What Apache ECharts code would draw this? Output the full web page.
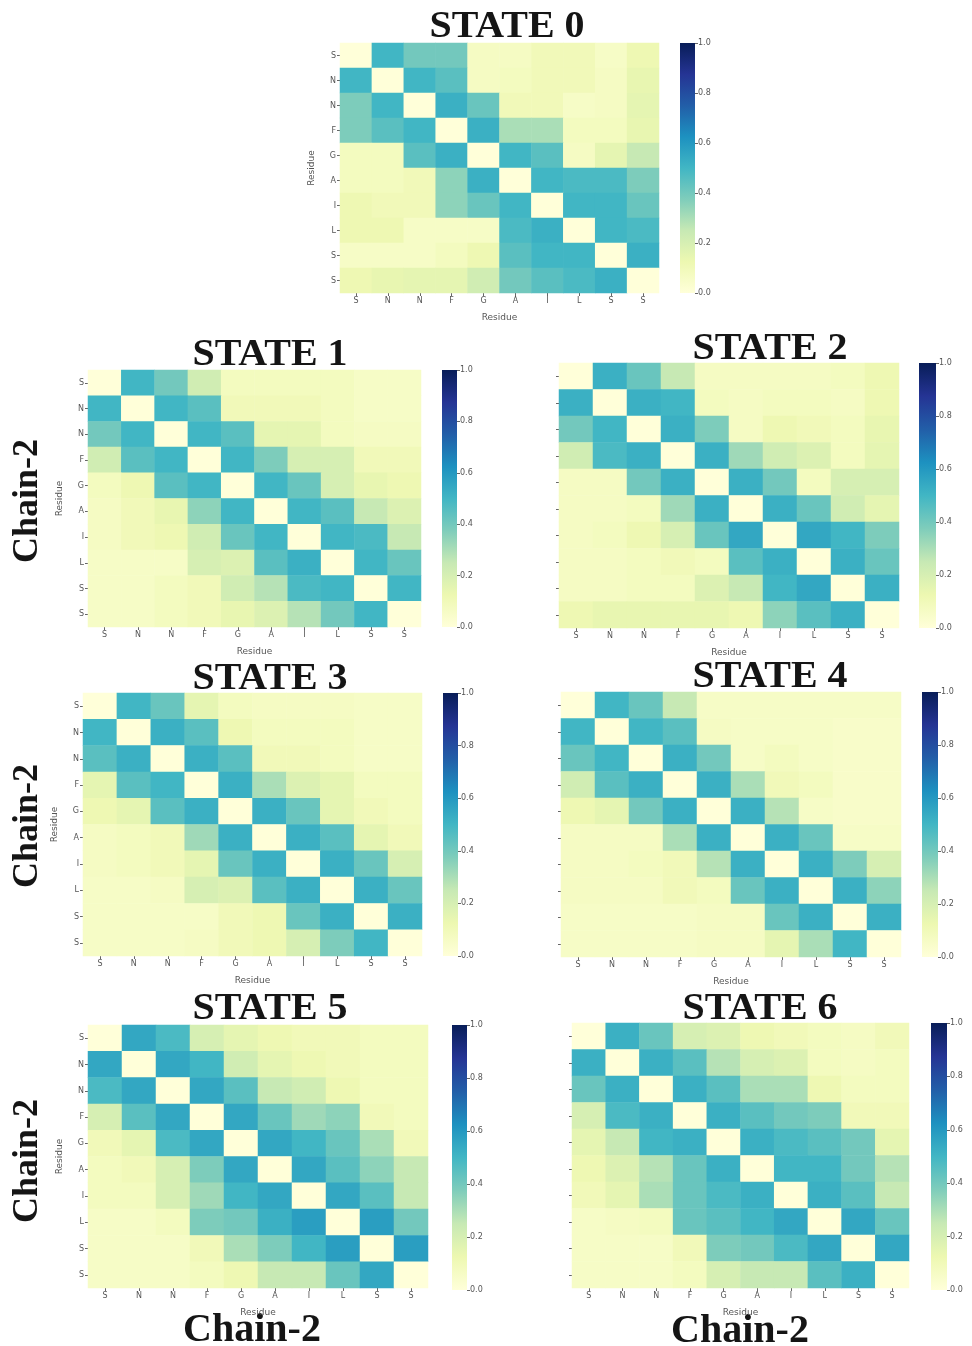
<!DOCTYPE html>
<html>
<head>
<meta charset="utf-8">
<script src="https://cdn.jsdelivr.net/npm/echarts@6/dist/echarts.min.js"></script>
<style>
  html, body { margin: 0; padding: 0; background: #ffffff; }
  #chart { width: 972px; height: 1346px; }
</style>
</head>
<body>
<div id="chart"></div>
<script>
// Residue sequence shared by both axes of every contact map
const RESIDUES = ['S', 'N', 'N', 'F', 'G', 'A', 'I', 'L', 'S', 'S'];

// Contact probability matrices (rows top→bottom, columns left→right)
const STATE_0 = [
  [0.00, 0.50, 0.40, 0.40, 0.07, 0.07, 0.10, 0.10, 0.06, 0.12],
  [0.50, 0.00, 0.50, 0.45, 0.07, 0.08, 0.10, 0.10, 0.07, 0.14],
  [0.38, 0.50, 0.00, 0.52, 0.42, 0.10, 0.10, 0.06, 0.07, 0.15],
  [0.38, 0.45, 0.50, 0.00, 0.52, 0.30, 0.30, 0.08, 0.08, 0.14],
  [0.08, 0.08, 0.45, 0.52, 0.00, 0.50, 0.45, 0.07, 0.15, 0.25],
  [0.08, 0.08, 0.10, 0.35, 0.52, 0.00, 0.50, 0.48, 0.48, 0.38],
  [0.12, 0.10, 0.10, 0.35, 0.42, 0.50, 0.00, 0.50, 0.50, 0.42],
  [0.12, 0.12, 0.06, 0.06, 0.06, 0.48, 0.52, 0.00, 0.50, 0.48],
  [0.06, 0.06, 0.06, 0.08, 0.12, 0.45, 0.50, 0.50, 0.00, 0.52],
  [0.12, 0.14, 0.15, 0.15, 0.22, 0.40, 0.45, 0.48, 0.52, 0.00]
];
const STATE_1 = [
  [0.00, 0.50, 0.40, 0.22, 0.08, 0.08, 0.08, 0.08, 0.06, 0.06],
  [0.50, 0.00, 0.50, 0.45, 0.10, 0.10, 0.10, 0.08, 0.06, 0.06],
  [0.40, 0.50, 0.00, 0.50, 0.45, 0.15, 0.15, 0.08, 0.07, 0.07],
  [0.22, 0.45, 0.50, 0.00, 0.50, 0.38, 0.20, 0.20, 0.10, 0.10],
  [0.08, 0.12, 0.45, 0.50, 0.00, 0.50, 0.42, 0.20, 0.14, 0.12],
  [0.07, 0.10, 0.14, 0.35, 0.50, 0.00, 0.50, 0.45, 0.25, 0.18],
  [0.07, 0.10, 0.12, 0.22, 0.42, 0.50, 0.00, 0.50, 0.48, 0.25],
  [0.06, 0.06, 0.06, 0.20, 0.18, 0.45, 0.52, 0.00, 0.50, 0.42],
  [0.06, 0.06, 0.08, 0.10, 0.22, 0.28, 0.48, 0.50, 0.00, 0.50],
  [0.06, 0.06, 0.08, 0.10, 0.14, 0.18, 0.28, 0.40, 0.50, 0.00]
];
const STATE_2 = [
  [0.00, 0.52, 0.42, 0.25, 0.07, 0.07, 0.07, 0.07, 0.08, 0.12],
  [0.52, 0.00, 0.52, 0.50, 0.08, 0.07, 0.08, 0.08, 0.07, 0.12],
  [0.40, 0.50, 0.00, 0.52, 0.38, 0.07, 0.12, 0.10, 0.08, 0.14],
  [0.22, 0.48, 0.52, 0.00, 0.52, 0.32, 0.22, 0.18, 0.08, 0.15],
  [0.07, 0.07, 0.40, 0.52, 0.00, 0.52, 0.40, 0.08, 0.20, 0.20],
  [0.07, 0.07, 0.08, 0.32, 0.52, 0.00, 0.52, 0.42, 0.22, 0.15],
  [0.07, 0.08, 0.12, 0.20, 0.42, 0.55, 0.00, 0.55, 0.50, 0.38],
  [0.07, 0.07, 0.08, 0.10, 0.08, 0.45, 0.52, 0.00, 0.52, 0.42],
  [0.07, 0.07, 0.08, 0.08, 0.18, 0.25, 0.50, 0.55, 0.00, 0.52],
  [0.12, 0.14, 0.14, 0.14, 0.14, 0.12, 0.35, 0.45, 0.52, 0.00]
];
const STATE_3 = [
  [0.00, 0.50, 0.42, 0.15, 0.08, 0.07, 0.07, 0.07, 0.06, 0.06],
  [0.50, 0.00, 0.52, 0.45, 0.12, 0.08, 0.08, 0.08, 0.06, 0.06],
  [0.45, 0.52, 0.00, 0.52, 0.45, 0.10, 0.10, 0.08, 0.06, 0.06],
  [0.15, 0.45, 0.50, 0.00, 0.52, 0.30, 0.18, 0.15, 0.08, 0.08],
  [0.12, 0.15, 0.45, 0.52, 0.00, 0.52, 0.42, 0.15, 0.10, 0.08],
  [0.07, 0.08, 0.10, 0.32, 0.52, 0.00, 0.52, 0.45, 0.15, 0.10],
  [0.07, 0.08, 0.10, 0.15, 0.42, 0.52, 0.00, 0.52, 0.42, 0.20],
  [0.06, 0.06, 0.07, 0.20, 0.18, 0.45, 0.52, 0.00, 0.52, 0.42],
  [0.06, 0.06, 0.06, 0.06, 0.10, 0.12, 0.42, 0.52, 0.00, 0.52],
  [0.06, 0.06, 0.06, 0.07, 0.10, 0.12, 0.20, 0.38, 0.50, 0.00]
];
const STATE_4 = [
  [0.00, 0.50, 0.42, 0.25, 0.06, 0.06, 0.06, 0.06, 0.06, 0.06],
  [0.50, 0.00, 0.50, 0.45, 0.07, 0.06, 0.06, 0.06, 0.05, 0.05],
  [0.42, 0.50, 0.00, 0.52, 0.40, 0.06, 0.08, 0.06, 0.05, 0.05],
  [0.22, 0.45, 0.52, 0.00, 0.52, 0.30, 0.10, 0.08, 0.05, 0.05],
  [0.12, 0.15, 0.40, 0.52, 0.00, 0.52, 0.28, 0.06, 0.05, 0.05],
  [0.07, 0.07, 0.07, 0.30, 0.52, 0.00, 0.52, 0.42, 0.06, 0.06],
  [0.07, 0.07, 0.08, 0.10, 0.28, 0.52, 0.00, 0.52, 0.38, 0.20],
  [0.07, 0.07, 0.07, 0.10, 0.08, 0.42, 0.52, 0.00, 0.52, 0.35],
  [0.06, 0.06, 0.06, 0.06, 0.07, 0.07, 0.42, 0.52, 0.00, 0.52],
  [0.06, 0.06, 0.06, 0.06, 0.07, 0.07, 0.15, 0.30, 0.50, 0.00]
];
const STATE_5 = [
  [0.00, 0.55, 0.48, 0.20, 0.15, 0.12, 0.10, 0.10, 0.08, 0.08],
  [0.55, 0.00, 0.55, 0.50, 0.22, 0.15, 0.12, 0.10, 0.08, 0.08],
  [0.48, 0.55, 0.00, 0.55, 0.45, 0.25, 0.22, 0.12, 0.08, 0.08],
  [0.20, 0.45, 0.55, 0.00, 0.55, 0.42, 0.32, 0.35, 0.10, 0.08],
  [0.10, 0.15, 0.48, 0.55, 0.00, 0.55, 0.50, 0.42, 0.30, 0.10],
  [0.08, 0.10, 0.20, 0.38, 0.55, 0.00, 0.55, 0.45, 0.35, 0.25],
  [0.08, 0.08, 0.20, 0.32, 0.50, 0.55, 0.00, 0.55, 0.45, 0.25],
  [0.06, 0.06, 0.08, 0.38, 0.40, 0.52, 0.58, 0.00, 0.58, 0.40],
  [0.06, 0.06, 0.06, 0.10, 0.30, 0.38, 0.50, 0.58, 0.00, 0.58],
  [0.06, 0.06, 0.06, 0.08, 0.12, 0.25, 0.25, 0.42, 0.55, 0.00]
];
const STATE_6 = [
  [0.00, 0.52, 0.42, 0.20, 0.18, 0.12, 0.10, 0.08, 0.07, 0.10],
  [0.52, 0.00, 0.52, 0.45, 0.28, 0.20, 0.18, 0.08, 0.07, 0.08],
  [0.42, 0.52, 0.00, 0.52, 0.45, 0.30, 0.30, 0.12, 0.08, 0.08],
  [0.20, 0.48, 0.52, 0.00, 0.52, 0.45, 0.40, 0.38, 0.10, 0.10],
  [0.15, 0.25, 0.50, 0.52, 0.00, 0.52, 0.48, 0.45, 0.40, 0.15],
  [0.12, 0.18, 0.28, 0.42, 0.52, 0.00, 0.50, 0.50, 0.40, 0.28],
  [0.10, 0.15, 0.30, 0.42, 0.48, 0.52, 0.00, 0.52, 0.45, 0.25],
  [0.06, 0.07, 0.08, 0.42, 0.45, 0.50, 0.55, 0.00, 0.55, 0.42],
  [0.06, 0.06, 0.06, 0.10, 0.38, 0.40, 0.48, 0.55, 0.00, 0.55],
  [0.06, 0.06, 0.06, 0.08, 0.20, 0.25, 0.25, 0.45, 0.52, 0.00]
];

const TITLES = ['STATE 0', 'STATE 1', 'STATE 2', 'STATE 3', 'STATE 4', 'STATE 5', 'STATE 6'];
const MATRICES = [STATE_0, STATE_1, STATE_2, STATE_3, STATE_4, STATE_5, STATE_6];

// YlGnBu colour ramp from 0 to 1
const YLGNBU = ['#ffffd9', '#edf8b1', '#c7e9b4', '#7fcdbb', '#41b6c4', '#1d91c0', '#225ea8', '#253494', '#081d58'];

// Panel placement: heatmap box, colour bar box, title centre, y labels shown
const LAYOUT = [
  { heat: [340, 43, 319, 250],  cb: [680, 43, 15, 250],  title: [507, 27],   yLabels: true },
  { heat: [88, 370, 333, 257],  cb: [442, 370, 15, 257], title: [270, 355],  yLabels: true },
  { heat: [559, 363, 340, 265], cb: [919, 363, 17, 265], title: [770, 349],  yLabels: false },
  { heat: [83, 693, 339, 263],  cb: [443, 693, 15, 263], title: [270, 679],  yLabels: true },
  { heat: [561, 692, 340, 265], cb: [922, 692, 16, 265], title: [770, 677],  yLabels: false },
  { heat: [88, 1025, 340, 263], cb: [452, 1025, 15, 265], title: [270, 1009], yLabels: true },
  { heat: [572, 1023, 337, 265], cb: [931, 1023, 16, 267], title: [760, 1009], yLabels: false }
];

const LABEL_GREY = '#555';
const grids = [], xAxes = [], yAxes = [], series = [], graphics = [];
const heatIdx = [];

MATRICES.forEach((m, p) => {
  const L = LAYOUT[p];
  const gH = grids.length;
  grids.push({ left: L.heat[0], top: L.heat[1], width: L.heat[2], height: L.heat[3] });
  const gC = grids.length;
  grids.push({ left: L.cb[0], top: L.cb[1], width: L.cb[2], height: L.cb[3] });

  const cats = RESIDUES.map((_, k) => 'r' + k);
  xAxes.push({
    gridIndex: gH, type: 'category', data: cats,
    name: 'Residue', nameLocation: 'middle', nameGap: 20,
    nameTextStyle: { fontSize: 9, color: LABEL_GREY, fontFamily: 'DejaVu Sans' },
    axisLine: { show: false },
    axisTick: { show: true, alignWithLabel: true, length: 3, lineStyle: { color: '#666' } },
    axisLabel: { fontSize: 8, color: LABEL_GREY, margin: 4, fontFamily: 'DejaVu Sans',
                 formatter: (v, i) => RESIDUES[i] },
    splitLine: { show: false }
  });
  yAxes.push({
    gridIndex: gH, type: 'category', data: cats, inverse: true,
    name: L.yLabels ? 'Residue' : '', nameLocation: 'middle', nameGap: 24,
    nameTextStyle: { fontSize: 9, color: LABEL_GREY, fontFamily: 'DejaVu Sans' },
    axisLine: { show: false },
    axisTick: { show: true, alignWithLabel: true, length: 3, lineStyle: { color: '#666' } },
    axisLabel: { show: L.yLabels, fontSize: 8, color: LABEL_GREY, margin: 4, fontFamily: 'DejaVu Sans',
                 formatter: (v, i) => RESIDUES[i] },
    splitLine: { show: false }
  });

  const cells = [];
  m.forEach((row, r) => row.forEach((v, c) => cells.push([c, r, v])));
  heatIdx.push(series.length);
  series.push({
    type: 'heatmap', xAxisIndex: xAxes.length - 1, yAxisIndex: yAxes.length - 1,
    data: cells, silent: true, progressive: 0
  });

  // Colour bar drawn as a single bar spanning 0..1 on its own value axis
  xAxes.push({ gridIndex: gC, type: 'category', data: ['cb'], show: false });
  yAxes.push({
    gridIndex: gC, type: 'value', min: 0, max: 1, interval: 0.2, position: 'right',
    axisLine: { show: false },
    axisTick: { show: true, length: 3, lineStyle: { color: '#666' } },
    axisLabel: { fontSize: 8, color: LABEL_GREY, margin: 3, fontFamily: 'DejaVu Sans',
                 formatter: v => v.toFixed(1) },
    splitLine: { show: false }
  });
  series.push({
    type: 'bar', xAxisIndex: xAxes.length - 1, yAxisIndex: yAxes.length - 1,
    data: [1], barWidth: '100%', silent: true,
    itemStyle: {
      color: new echarts.graphic.LinearGradient(0, 1, 0, 0,
        YLGNBU.map((c, k) => ({ offset: k / (YLGNBU.length - 1), color: c })))
    }
  });

  graphics.push({
    type: 'text', x: L.title[0], y: L.title[1], scaleX: 1.08,
    style: { text: TITLES[p], font: 'bold 37px "Liberation Serif"', fill: '#151515',
             align: 'center', verticalAlign: 'middle' }
  });
});

// Chain labels: rotated along the left column and under the bottom row
const CHAIN = 'Chain-2';
[[28, 501], [28, 826], [28, 1161]].forEach(([x, y]) => {
  graphics.push({
    type: 'text', x: x, y: y, rotation: Math.PI / 2,
    style: { text: CHAIN, font: 'bold 36px "Liberation Serif"', fill: '#151515',
             align: 'center', verticalAlign: 'middle' }
  });
});
[[252, 1331], [740, 1332]].forEach(([x, y]) => {
  graphics.push({
    type: 'text', x: x, y: y,
    style: { text: CHAIN, font: 'bold 40px "Liberation Serif"', fill: '#151515',
             align: 'center', verticalAlign: 'middle' }
  });
});

const chart = echarts.init(document.getElementById('chart'), null, { renderer: 'canvas' });
chart.setOption({
  animation: false,
  backgroundColor: '#ffffff',
  grid: grids,
  xAxis: xAxes,
  yAxis: yAxes,
  visualMap: {
    type: 'continuous', min: 0, max: 1, show: false,
    seriesIndex: heatIdx,
    inRange: { color: YLGNBU }
  },
  series: series,
  graphic: graphics
});
</script>
</body>
</html>
